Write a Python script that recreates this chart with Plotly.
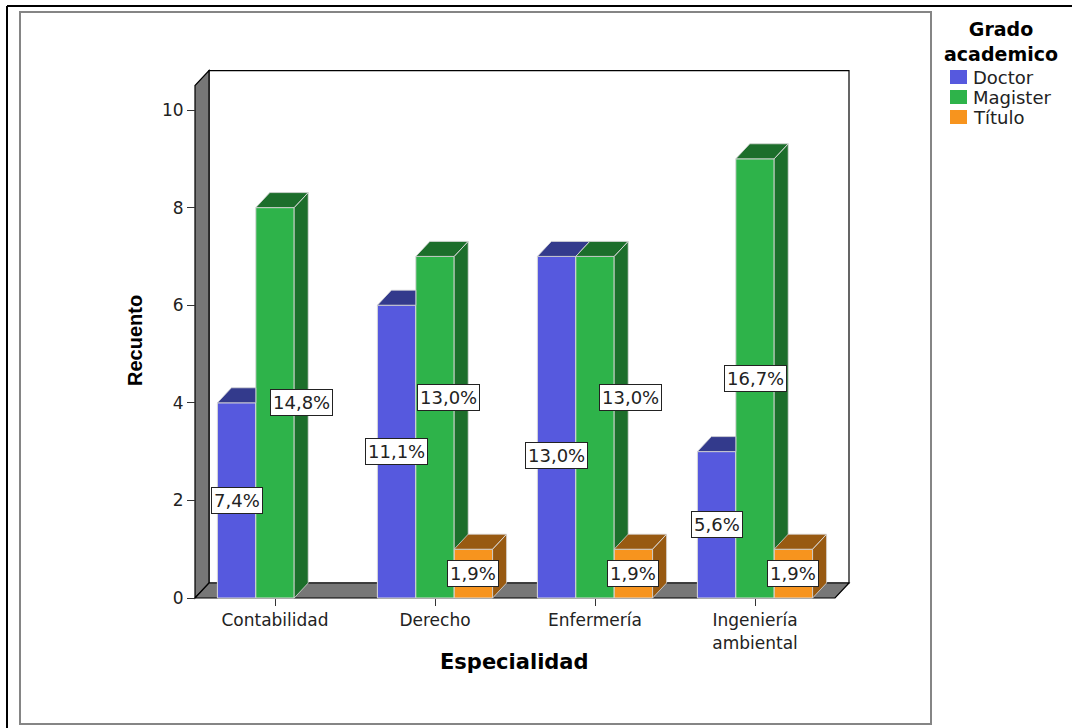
import plotly.graph_objects as go

# --- data -------------------------------------------------------------
categories = ["Contabilidad", "Derecho", "Enfermería", "Ingeniería ambiental"]
tick_labels = ["Contabilidad", "Derecho", "Enfermería", "Ingeniería<br>ambiental"]
series_names = ["Doctor", "Magister", "Título"]
doctor = [4, 6, 7, 3]
magister = [8, 7, 7, 9]
titulo = [0, 1, 1, 1]
y_ticks = [0, 2, 4, 6, 8, 10]

series_values = [doctor, magister, titulo]
front_colors = ["#5659de", "#2eb34a", "#f7941e"]
dark_colors = ["#333a8c", "#1c6e2b", "#985a12"]
edge_color = "#d8d8d8"

# label nudges (pixels) so that neighbouring value boxes do not collide
label_dx = [[0, 0, 0, 0], [26, 13, 35, 0], [0, 0, 0, 0]]
label_dy = [[0, 0, -28, 0], [0, 30, 30, 0], [0, 0, 0, 0]]

# --- geometry -----------------------------------------------------------
W, H = 1072, 728
PX_X, PX_Y = 160.0, 48.8          # pixels per data unit
X0_PX, Y0_PX = 195, 598           # pixel position of x=-0.5 / y=0
L, R_PX, T, B_PX = 179, 859, 66, 610
DX, DY = 14 / PX_X, 15 / PX_Y     # 3-D depth offset in data units
BW = 0.24                         # bar width
WALL_TOP = 10.5
X_LEFT, X_RIGHT = -0.5, len(categories) - 0.5

x_range = [X_LEFT - (X0_PX - L) / PX_X, X_LEFT + (R_PX - X0_PX) / PX_X]
y_range = [-(B_PX - Y0_PX) / PX_Y, (Y0_PX - T) / PX_Y]


def paper_x(px):
    return (px - L) / (R_PX - L)


def paper_y(py):
    return (B_PX - py) / (B_PX - T)


def clip_half(poly, a, b, c):
    """Keep the part of a convex polygon where a*x + b*y + c >= 0."""
    out = []
    n = len(poly)
    for i in range(n):
        p, q = poly[i], poly[(i + 1) % n]
        fp = a * p[0] + b * p[1] + c
        fq = a * q[0] + b * q[1] + c
        if fp >= 0:
            out.append(p)
        if (fp >= 0) != (fq >= 0):
            t = fp / (fp - fq)
            out.append((p[0] + t * (q[0] - p[0]), p[1] + t * (q[1] - p[1])))
    return out


def area(poly):
    s = 0.0
    for i in range(len(poly)):
        x1, y1 = poly[i]
        x2, y2 = poly[(i + 1) % len(poly)]
        s += x1 * y2 - x2 * y1
    return abs(s) / 2


total = sum(sum(v) for v in series_values)
fig = go.Figure()

# front faces of the bars
for k, (name, vals) in enumerate(zip(series_names, series_values)):
    xs = [i + (k - 1) * BW for i in range(len(categories))]
    fig.add_trace(go.Bar(
        name=name, x=xs, y=[v if v > 0 else None for v in vals], width=BW,
        marker=dict(color=front_colors[k], line=dict(color=edge_color, width=1)),
        showlegend=False, hoverinfo="skip",
    ))

# top and side faces, hidden parts removed where the next bar stands in front
for k, vals in enumerate(series_values):
    fx, fy = [], []
    for i, v in enumerate(vals):
        if v <= 0:
            continue
        x0 = i + (k - 1) * BW - BW / 2
        x1 = x0 + BW
        vn = series_values[k + 1][i] if k + 1 < len(series_values) else 0
        side = [(x1, 0), (x1 + DX, DY), (x1 + DX, v + DY), (x1, v)]
        top = [(x0, v), (x0 + DX, v + DY), (x1 + DX, v + DY), (x1, v)]
        polys = []
        polys.append(side if vn <= 0 else clip_half(side, 0, 1, -vn))
        if vn <= v:
            polys.append(top)
        else:
            polys.append(clip_half(top, -1, 0, x1))
            polys.append(clip_half(clip_half(top, 1, 0, -x1), 0, 1, -vn))
        for p in polys:
            if len(p) < 3 or area(p) < 1e-6:
                continue
            fx += [q[0] for q in p] + [p[0][0], None]
            fy += [q[1] for q in p] + [p[0][1], None]
    fig.add_trace(go.Scatter(
        x=fx, y=fy, mode="lines", fill="toself", fillcolor=dark_colors[k],
        line=dict(color=edge_color, width=0.8), showlegend=False, hoverinfo="skip",
    ))

# value labels (share of all respondents)
for k, vals in enumerate(series_values):
    for i, v in enumerate(vals):
        if v <= 0:
            continue
        pct = f"{100 * v / total:.1f}".replace(".", ",") + "%"
        fig.add_annotation(
            x=i + (k - 1) * BW, y=v / 2, text=pct, showarrow=False,
            xanchor="center", yanchor="middle",
            xshift=label_dx[k][i], yshift=label_dy[k][i],
            font=dict(family="DejaVu Sans", size=18, color="#222222"),
            bgcolor="white", bordercolor="#222222", borderwidth=1, borderpad=2,
        )

# 3-D box: back wall, left wall and floor
def path(points):
    return "M " + " L ".join(f"{x},{y}" for x, y in points) + " Z"


box_shapes = [
    ([(X_LEFT + DX, DY), (X_RIGHT + DX, DY), (X_RIGHT + DX, WALL_TOP + DY),
      (X_LEFT + DX, WALL_TOP + DY)], "white"),
    ([(X_LEFT, 0), (X_LEFT, WALL_TOP), (X_LEFT + DX, WALL_TOP + DY),
      (X_LEFT + DX, DY)], "#777777"),
    ([(X_LEFT, 0), (X_RIGHT, 0), (X_RIGHT + DX, DY), (X_LEFT + DX, DY)], "#777777"),
]
for pts, col in box_shapes:
    fig.add_shape(type="path", path=path(pts), xref="x", yref="y", layer="below",
                  fillcolor=col, line=dict(color="black", width=1.2))

# frames around the chart
fig.add_shape(type="rect", xref="paper", yref="paper",
              x0=paper_x(20), x1=paper_x(931), y0=paper_y(724), y1=paper_y(12),
              line=dict(color="#858585", width=2))
fig.add_shape(type="line", xref="paper", yref="paper",
              x0=paper_x(7), x1=paper_x(1075), y0=paper_y(6), y1=paper_y(6),
              line=dict(color="black", width=2))
fig.add_shape(type="line", xref="paper", yref="paper",
              x0=paper_x(7), x1=paper_x(7), y0=paper_y(6), y1=paper_y(731),
              line=dict(color="black", width=2))

# axis titles
fig.add_annotation(xref="paper", yref="paper", x=paper_x(135), y=paper_y(341),
                   xanchor="center", yanchor="middle",
                   text="<b>Recuento</b>", textangle=-90, showarrow=False,
                   font=dict(family="Liberation Sans", size=20, color="black"))
fig.add_annotation(xref="paper", yref="paper", x=paper_x(514), y=paper_y(662),
                   xanchor="center", yanchor="middle",
                   text="<b>Especialidad</b>", showarrow=False,
                   font=dict(family="DejaVu Sans", size=21, color="black"))

# legend
fig.add_annotation(xref="paper", yref="paper", x=paper_x(1001), y=paper_y(42),
                   xanchor="center", yanchor="middle",
                   text="<b>Grado<br>academico</b>", showarrow=False, align="center",
                   font=dict(family="DejaVu Sans", size=19, color="black"))
for k, name in enumerate(series_names):
    cy = 77 + 20 * k
    fig.add_shape(type="rect", xref="paper", yref="paper",
                  x0=paper_x(950), x1=paper_x(967), y0=paper_y(cy + 7), y1=paper_y(cy - 7),
                  fillcolor=front_colors[k], line=dict(width=0))
    fig.add_annotation(xref="paper", yref="paper", x=paper_x(971), y=paper_y(cy),
                       xanchor="left", yanchor="middle", text=name, showarrow=False,
                       font=dict(family="DejaVu Sans", size=18, color="#222222"))

fig.update_layout(
    width=W, height=H, template="none",
    margin=dict(l=L, r=W - R_PX, t=T, b=H - B_PX, pad=0),
    paper_bgcolor="white", plot_bgcolor="rgba(0,0,0,0)",
    barmode="overlay", showlegend=False,
    font=dict(family="DejaVu Sans", size=17, color="#222222"),
    xaxis=dict(range=x_range, tickmode="array", tickvals=list(range(len(categories))),
               ticktext=tick_labels, ticks="outside", ticklen=7, tickcolor="#333333",
               showgrid=False, zeroline=False, showline=False, automargin=False,
               anchor="free", position=paper_y(Y0_PX), fixedrange=True),
    yaxis=dict(range=y_range, tickmode="array", tickvals=y_ticks, ticks="outside",
               ticklen=8, tickcolor="#333333", showgrid=False, zeroline=False,
               showline=False, automargin=False, anchor="free",
               position=paper_x(X0_PX), fixedrange=True),
)

fig.write_html("out.html")
